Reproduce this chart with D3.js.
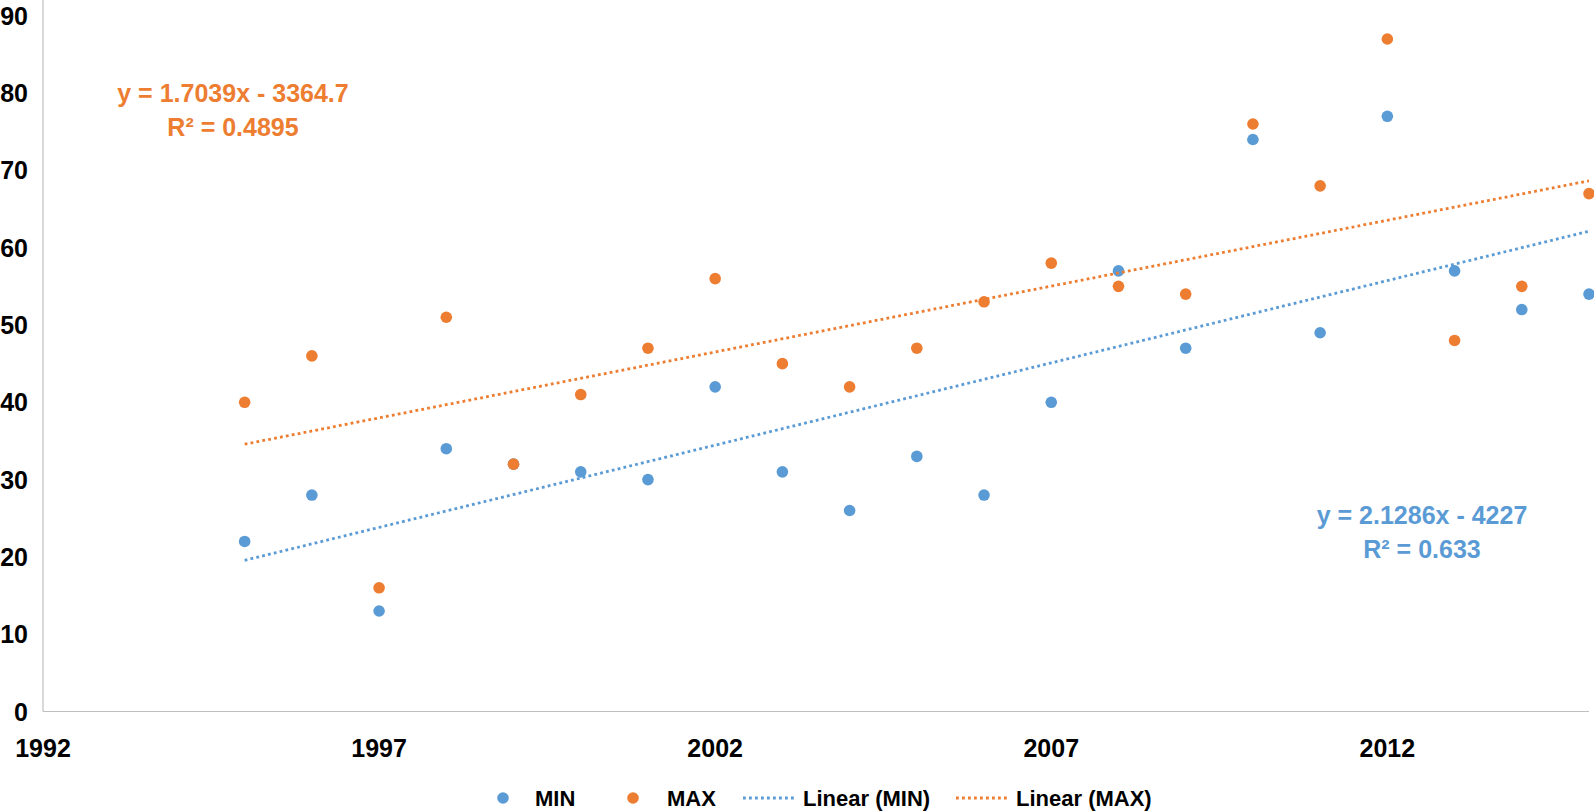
<!DOCTYPE html>
<html>
<head>
<meta charset="utf-8">
<script src="https://cdn.jsdelivr.net/npm/d3@7"></script>
<style>
  html, body { margin: 0; padding: 0; background: #fff; }
  svg { display: block; }
  text { font-family: "Liberation Sans", Arial, sans-serif; font-weight: bold; }
</style>
</head>
<body>
<svg id="chart" width="1594" height="812"></svg>
<script>
const years = [1995,1996,1997,1998,1999,2000,2001,2002,2003,2004,2005,2006,2007,2008,2009,2010,2011,2012,2013,2014,2015];
const minValues = [22,28,13,34,32,31,30,42,31,26,33,28,40,57,47,74,49,77,57,52,54];
const maxValues = [40,46,16,51,32,41,47,56,45,42,47,53,58,55,54,76,68,87,48,55,67];
const xTicks = [1992,1997,2002,2007,2012];
const yTicks = [0,10,20,30,40,50,60,70,80,90];
const seriesNames = ["MIN","MAX"];
const trendMin = { slope: 2.1286, intercept: -4227, label: ["y = 2.1286x - 4227", "R² = 0.633"] };
const trendMax = { slope: 1.7039, intercept: -3364.7, label: ["y = 1.7039x - 3364.7", "R² = 0.4895"] };

const BLUE = "#5B9BD5", ORANGE = "#ED7D31", AXIS = "#BFBFBF";

const svg = d3.select("#chart");
const x = d3.scaleLinear().domain([1992, 2015]).range([43, 1589]);
const y = d3.scaleLinear().domain([0, 90]).range([711.5, 15.8]);

// axes lines
svg.append("line").attr("x1", x(1992)).attr("x2", x(2015)).attr("y1", y(0)).attr("y2", y(0))
  .attr("stroke", AXIS).attr("stroke-width", 1.2);
svg.append("line").attr("x1", x(1992)).attr("x2", x(1992)).attr("y1", y(0)).attr("y2", y(90) - 16)
  .attr("stroke", AXIS).attr("stroke-width", 1.2);

// y tick labels
svg.append("g").selectAll("text").data(yTicks).join("text")
  .attr("x", 28).attr("y", d => y(d)).attr("dy", "0.36em")
  .attr("text-anchor", "end").attr("font-size", 25).attr("fill", "#000")
  .text(d => d);

// x tick labels
svg.append("g").selectAll("text").data(xTicks).join("text")
  .attr("x", d => x(d)).attr("y", 757)
  .attr("text-anchor", "middle").attr("font-size", 25).attr("fill", "#000")
  .text(d => d);

// points
const minData = years.map((yr, i) => ({ yr, v: minValues[i] }));
const maxData = years.map((yr, i) => ({ yr, v: maxValues[i] }));
svg.append("g").selectAll("circle").data(minData).join("circle")
  .attr("cx", d => x(d.yr)).attr("cy", d => y(d.v)).attr("r", 5.8).attr("fill", BLUE);
svg.append("g").selectAll("circle").data(maxData).join("circle")
  .attr("cx", d => x(d.yr)).attr("cy", d => y(d.v)).attr("r", 5.8).attr("fill", ORANGE);

// trendlines
function trend(t, color) {
  const x0 = d3.min(years), x1 = d3.max(years);
  svg.append("line")
    .attr("x1", x(x0)).attr("y1", y(t.slope * x0 + t.intercept))
    .attr("x2", x(x1)).attr("y2", y(t.slope * x1 + t.intercept))
    .attr("stroke", color).attr("stroke-width", 2.8)
    .attr("stroke-dasharray", "2.8 3.2");
}
trend(trendMin, BLUE);
trend(trendMax, ORANGE);

// equation labels
function eqLabel(t, color, cx, baselines) {
  svg.append("g").selectAll("text").data(t.label).join("text")
    .attr("x", cx).attr("y", (d, i) => baselines[i])
    .attr("text-anchor", "middle").attr("font-size", 25).attr("fill", color)
    .text(d => d);
}
eqLabel(trendMax, ORANGE, 233, [102, 136]);
eqLabel(trendMin, BLUE, 1422, [523.5, 557.5]);

// legend
const ly = 798;
const lg = svg.append("g");
lg.append("circle").attr("cx", 503).attr("cy", ly).attr("r", 5.8).attr("fill", BLUE);
lg.append("text").attr("x", 535).attr("y", ly).attr("dy", "0.36em").attr("font-size", 22).text(seriesNames[0]);
lg.append("circle").attr("cx", 633).attr("cy", ly).attr("r", 5.8).attr("fill", ORANGE);
lg.append("text").attr("x", 667).attr("y", ly).attr("dy", "0.36em").attr("font-size", 22).text(seriesNames[1]);
lg.append("line").attr("x1", 743).attr("x2", 797).attr("y1", ly).attr("y2", ly)
  .attr("stroke", BLUE).attr("stroke-width", 2.8).attr("stroke-dasharray", "2.8 3.2");
lg.append("text").attr("x", 803).attr("y", ly).attr("dy", "0.36em").attr("font-size", 22).text("Linear (" + seriesNames[0] + ")");
lg.append("line").attr("x1", 956).attr("x2", 1010).attr("y1", ly).attr("y2", ly)
  .attr("stroke", ORANGE).attr("stroke-width", 2.8).attr("stroke-dasharray", "2.8 3.2");
lg.append("text").attr("x", 1016).attr("y", ly).attr("dy", "0.36em").attr("font-size", 22).text("Linear (" + seriesNames[1] + ")");
</script>
</body>
</html>
